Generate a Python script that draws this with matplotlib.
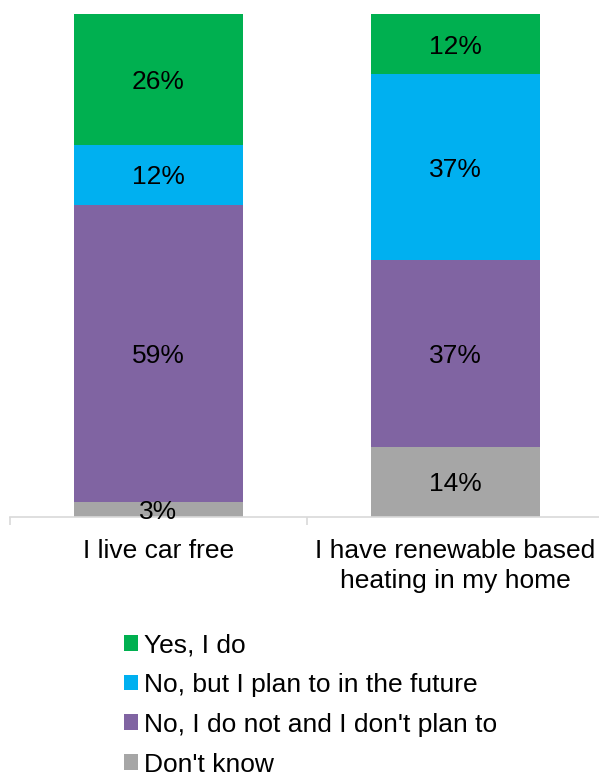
import matplotlib.pyplot as plt
from matplotlib.patches import Patch
from matplotlib.transforms import offset_copy

# --- Datos ---------------------------------------------------------------------
categories = ["I live car free", "I have renewable based\nheating in my home"]
series_names = ["Don't know", "No, I do not and I don't plan to",
                "No, but I plan to in the future", "Yes, I do"]
dont_know = [3, 14]
no_no_plan = [59, 37]
no_but_plan = [12, 37]
yes_i_do = [26, 12]

colors = ["#A6A6A6", "#8064A2", "#00B0F0", "#00B050"]

plt.rcParams["font.family"] = ["Liberation Sans", "DejaVu Sans"]

fig = plt.figure(figsize=(5.99, 7.76), dpi=100)
W, H = 599, 776
ax = fig.add_axes([10 / W, (H - 517) / H, 594 / W, 503 / H])

# etiquetas de valor un poco más abajo para que queden centradas a la vista
lbl_tr = offset_copy(ax.transData, fig=fig, x=0, y=-2.5, units="dots")

x = list(range(len(categories)))
bottom = [0] * len(categories)
for name, vals, col in zip(series_names,
                           [dont_know, no_no_plan, no_but_plan, yes_i_do], colors):
    ax.bar(x, vals, width=0.572, bottom=bottom, color=col, label=name)
    for xi, b, v in zip(x, bottom, vals):
        ax.text(xi, b + v / 2, f"{v}%", ha="center", va="center",
                fontsize=19, color="#000000", zorder=5, transform=lbl_tr)
    bottom = [b + v for b, v in zip(bottom, vals)]

ax.set_xlim(-0.5, 1.5)
ax.set_ylim(0, 100)
ax.set_yticks([])
for s in ["top", "right", "left"]:
    ax.spines[s].set_visible(False)
ax.spines["bottom"].set_color("#D9D9D9")
ax.spines["bottom"].set_linewidth(1.2)

# marcas entre categorías, etiquetas centradas
ax.set_xticks([-0.5, 0.5, 1.5])
ax.set_xticklabels([])
ax.tick_params(axis="x", direction="out", length=6, width=1.2, color="#D9D9D9")
for xi, lab in zip(x, categories):
    ax.text(xi, -4.4, lab, ha="center", va="top", fontsize=19,
            linespacing=1.32, transform=ax.transData)

handles = [Patch(facecolor=c) for c in colors][::-1]
labels = series_names[::-1]
fig.legend(handles, labels, loc="upper left", bbox_to_anchor=(124 / W, 1 - 633 / H),
           frameon=False, fontsize=19, handlelength=0.54, handleheight=0.54,
           handletextpad=0.2, labelspacing=0.6, borderaxespad=0, borderpad=0)

fig.savefig("out.png", dpi=100)
